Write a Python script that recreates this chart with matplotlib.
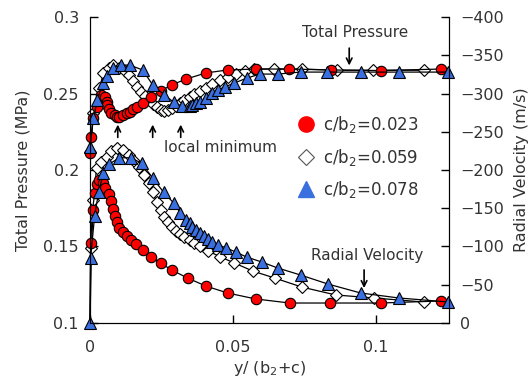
import matplotlib
matplotlib.use('Agg')
import matplotlib.pyplot as plt

# Total pressure (MPa), left axis
x_p_023 = [0.0, 0.0005, 0.001, 0.0023, 0.004, 0.0051, 0.0058, 0.0061, 0.0068, 0.0075, 0.0086,
           0.0093, 0.0103, 0.0114, 0.0128, 0.0138, 0.0149, 0.0163, 0.0184, 0.0212, 0.0247,
           0.0285, 0.0337, 0.0404, 0.0481, 0.0579, 0.0694, 0.0841, 0.1016, 0.1226]
p_023 = [0.211, 0.2216, 0.234, 0.241, 0.249, 0.2477, 0.2444, 0.2425, 0.240, 0.2373, 0.236,
         0.2347, 0.2347, 0.236, 0.2373, 0.238, 0.240, 0.241, 0.2438, 0.2477, 0.2516,
         0.2556, 0.2595, 0.2634, 0.2654, 0.266, 0.266, 0.2654, 0.265, 0.266]

x_p_059 = [0.0, 0.0012, 0.0033, 0.0047, 0.0065, 0.0079, 0.01, 0.0121, 0.0135, 0.0149, 0.0163,
           0.0177, 0.0191, 0.0205, 0.0219, 0.0233, 0.0247, 0.026, 0.0274, 0.0288, 0.0302,
           0.0316, 0.033, 0.0348, 0.0365, 0.0383, 0.0404, 0.0428, 0.0453, 0.0481, 0.0509,
           0.054, 0.0572, 0.0642, 0.0741, 0.0864, 0.0988, 0.1166]
p_059 = [0.2118, 0.2373, 0.2536, 0.2634, 0.2667, 0.2686, 0.2667, 0.2647, 0.2621, 0.2582, 0.2543,
         0.251, 0.2484, 0.2458, 0.2431, 0.2412, 0.2392, 0.2386, 0.2392, 0.2405, 0.2418,
         0.2438, 0.2458, 0.2477, 0.2497, 0.2516, 0.2536, 0.2562, 0.2588, 0.2608, 0.2627,
         0.2647, 0.266, 0.266, 0.266, 0.2652, 0.2652, 0.2652]

x_p_078 = [0.0, 0.0012, 0.0026, 0.0044, 0.0058, 0.0079, 0.0107, 0.0138, 0.0184, 0.0219, 0.026,
           0.0292, 0.032, 0.0348, 0.0358, 0.0372, 0.0386, 0.0407, 0.0425, 0.0446, 0.0471,
           0.0505, 0.0547, 0.0594, 0.0656, 0.0736, 0.083, 0.0946, 0.1079, 0.125]
p_078 = [0.215, 0.234, 0.2458, 0.2569, 0.2614, 0.2667, 0.2686, 0.2686, 0.2654, 0.2556, 0.249,
         0.2444, 0.2418, 0.2418, 0.2425, 0.2438, 0.2444, 0.247, 0.2503, 0.2523, 0.2543,
         0.2569, 0.260, 0.2627, 0.2627, 0.264, 0.264, 0.264, 0.264, 0.264]

# Radial velocity (m/s), right axis
x_v_023 = [0.0, 0.0002, 0.0009, 0.0016, 0.0023, 0.0033, 0.0044, 0.0054, 0.0065, 0.0072, 0.0079,
           0.0086, 0.0093, 0.0103, 0.0114, 0.0128, 0.0142, 0.0159, 0.0184, 0.0212, 0.0247,
           0.0285, 0.0341, 0.0404, 0.0481, 0.0579, 0.0698, 0.0838, 0.1016, 0.1226]
v_023 = [0, -104.6, -147.7, -170, -181.7, -187, -183, -176.4, -168.6, -159.5, -149,
         -139.8, -132, -124, -119, -113.7, -108.5, -103, -95, -86, -78.4,
         -69.3, -58.8, -48.4, -39.2, -31.4, -26.1, -26.1, -26.1, -28.8]

x_v_059 = [0.0, 0.0005, 0.0012, 0.0023, 0.004, 0.0058, 0.0075, 0.0093, 0.0114, 0.0135, 0.0152,
           0.017, 0.0187, 0.0205, 0.0219, 0.0233, 0.0247, 0.026, 0.0271, 0.0285, 0.0299,
           0.0313, 0.033, 0.0348, 0.0365, 0.0383, 0.0414, 0.0456, 0.0505, 0.0568, 0.0645,
           0.074, 0.0859, 0.0992, 0.1166]
v_059 = [0, -98, -161, -203, -210, -217, -225, -229, -226, -220, -212,
         -204, -193, -183, -171, -158, -148, -138.5, -132, -125.5, -120,
         -116, -112.4, -108.5, -104.6, -100.6, -94, -86.3, -78.4, -68, -58.8,
         -47, -36.6, -32.7, -27.4]

x_v_078 = [0.0, 0.0002, 0.0016, 0.003, 0.0047, 0.0068, 0.0103, 0.0142, 0.018, 0.0219, 0.0257,
           0.0292, 0.0316, 0.0337, 0.0348, 0.0358, 0.0372, 0.0383, 0.0397, 0.0411, 0.0428,
           0.0449, 0.0477, 0.0509, 0.0547, 0.06, 0.0656, 0.0736, 0.0831, 0.0946, 0.1079, 0.1251]
v_078 = [0, -85, -140, -171, -196, -208, -216, -216, -209, -189.5, -171,
         -157, -144, -134.6, -130.7, -125.5, -121.5, -117.6, -113.7, -109.8, -105.9,
         -102, -98, -92.8, -86.3, -79.7, -71.9, -62.7, -51, -39.2, -32.7, -27.5]

labels = ['c/b$_2$=0.023', 'c/b$_2$=0.059', 'c/b$_2$=0.078']

plt.rcParams['font.family'] = ['DejaVu Sans']
txt = '#333333'

fig = plt.figure(figsize=(5.28, 3.79), dpi=100)
ax = fig.add_axes([0.1705, 0.1478, 0.68, 0.8073])
ax2 = ax.twinx()

red = dict(marker='o', color='black', lw=0.9, ms=7.5, mfc='#ff0000', mec='black', mew=0.8, clip_on=False)
wht = dict(marker='D', color='black', lw=0.9, ms=6, mfc='white', mec='black', mew=0.8, clip_on=False)
blu = dict(marker='^', color='black', lw=0.9, ms=8, mfc='#3a6fe0', mec='black', mew=0.8, clip_on=False)

ax.plot(x_p_059, p_059, **wht)
ax.plot(x_p_023, p_023, **red)
ax.plot(x_p_078, p_078, **blu)

# the zero point at the wall only shows the blue triangle
ax2.plot(x_v_059, v_059, markevery=slice(1, None), **wht)
ax2.plot(x_v_023, v_023, markevery=slice(1, None), **red)
ax2.plot(x_v_078, v_078, **blu)

ax.set_xlim(0, 0.1255)
ax.set_ylim(0.1, 0.3)
ax2.set_ylim(0, -400)

ax.set_xticks([0, 0.05, 0.1])
ax.set_xticklabels(['0', '0.05', '0.1'])
ax.set_yticks([0.1, 0.15, 0.2, 0.25, 0.3])
ax.set_yticklabels(['0.1', '0.15', '0.2', '0.25', '0.3'])
ax2.set_yticks([0, -50, -100, -150, -200, -250, -300, -350, -400])

for a in (ax, ax2):
    a.spines['top'].set_visible(False)
    a.tick_params(direction='in', length=6, width=1, labelsize=11.5, labelcolor=txt, pad=8)
ax.tick_params(axis='x', pad=12)

ax.set_xlabel('y/ (b$_2$+c)', fontsize=11.5, color=txt, labelpad=3)
ax.set_ylabel('Total Pressure (MPa)', fontsize=11.5, color=txt, labelpad=9)
ax2.set_ylabel('Radial Velocity (m/s)', fontsize=11.5, color=txt, labelpad=7)

# annotations
arr = dict(arrowstyle='->', color='black', lw=1.2)
ax.text(0.0925, 0.2896, 'Total Pressure', fontsize=11, color=txt, ha='center', va='center')
ax.annotate('', xy=(0.0906, 0.2665), xytext=(0.0906, 0.2815), arrowprops=arr)
ax.text(0.0455, 0.2144, 'local minimum', fontsize=11, color=txt, ha='center', va='center')
for xm in [0.0097, 0.0219, 0.0317]:
    ax.annotate('', xy=(xm, 0.2315), xytext=(xm, 0.2195), arrowprops=arr)
ax.text(0.097, 0.1438, 'Radial Velocity', fontsize=11, color=txt, ha='center', va='center')
ax.annotate('', xy=(0.0958, 0.121), xytext=(0.0958, 0.1365), arrowprops=arr)

h1, = ax.plot([], [], linestyle='none', marker='o', ms=11, mfc='#ff0000', mec='#ff0000')
h2, = ax.plot([], [], linestyle='none', marker='D', ms=8, mfc='white', mec='#555555', mew=0.8)
h3, = ax.plot([], [], linestyle='none', marker='^', ms=11, mfc='#3a6fe0', mec='#3a6fe0')
leg = ax.legend([h1, h2, h3], labels, loc='upper left', bbox_to_anchor=(0.56, 0.705),
                frameon=False, fontsize=12, handlelength=1.0, handletextpad=0.5,
                labelspacing=0.7, borderaxespad=0)
for t in leg.get_texts():
    t.set_color(txt)

plt.savefig('out.png', dpi=100)
plt.close()
